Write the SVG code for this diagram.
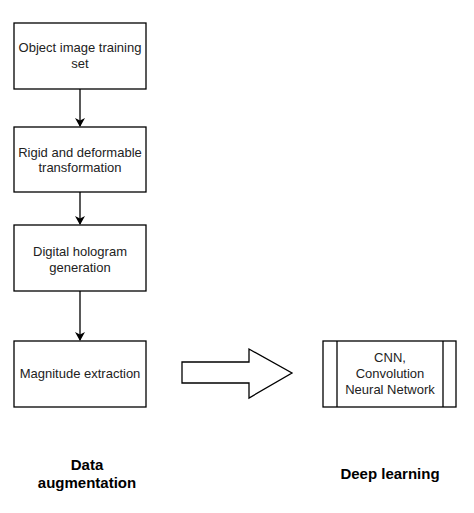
<svg xmlns="http://www.w3.org/2000/svg" width="474" height="513" viewBox="0 0 474 513">
<style>
.box{fill:#fff;stroke:#000;stroke-width:1.3}
.t{font-family:"Liberation Sans",Arial,sans-serif;font-size:13px;fill:#222;text-anchor:middle}
.b{font-family:"Liberation Sans",Arial,sans-serif;font-size:15px;font-weight:bold;fill:#000;text-anchor:middle}
.c{stroke:#000;stroke-width:1.3;fill:none}
</style>
<defs>
<marker id="ah" markerWidth="10" markerHeight="10" refX="8" refY="5" orient="auto" markerUnits="userSpaceOnUse">
<path d="M0,0 L9,5 L0,10 L2.5,5 Z" fill="#000"/>
</marker>
</defs>
<rect width="474" height="513" fill="#fff"/>
<g id="n1"><rect class="box" x="14" y="23" width="132" height="66"/>
<text class="t" x="80" y="52">Object image training</text><text class="t" x="80" y="68">set</text></g>
<g id="n2"><rect class="box" x="14" y="127" width="132" height="65"/>
<text class="t" x="80" y="157">Rigid and deformable</text><text class="t" x="80" y="172">transformation</text></g>
<g id="n3"><rect class="box" x="14" y="225" width="132" height="66"/>
<text class="t" x="80" y="256">Digital hologram</text><text class="t" x="80" y="272">generation</text></g>
<g id="n4"><rect class="box" x="14" y="341" width="132" height="66"/>
<text class="t" x="80" y="378">Magnitude extraction</text></g>
<g id="n5"><rect class="box" x="323" y="341" width="133" height="66"/>
<line class="c" x1="337" y1="341" x2="337" y2="407"/><line class="c" x1="443" y1="341" x2="443" y2="407"/>
<text class="t" x="390" y="362">CNN,</text><text class="t" x="390" y="378">Convolution</text><text class="t" x="390" y="394">Neural Network</text></g>
<g id="connectors">
<line class="c" x1="80" y1="89" x2="80" y2="126" marker-end="url(#ah)"/>
<line class="c" x1="80" y1="192" x2="80" y2="224" marker-end="url(#ah)"/>
<line class="c" x1="80" y1="291" x2="80" y2="340" marker-end="url(#ah)"/>
<path class="c" d="M182,362 L249,362 L249,349 L292,373 L249,398 L249,383 L182,383 Z" fill="#fff"/>
</g>
<g id="labels">
<text class="b" x="87" y="470">Data</text><text class="b" x="87" y="488">augmentation</text>
<text class="b" x="390" y="479">Deep learning</text>
</g>
</svg>
